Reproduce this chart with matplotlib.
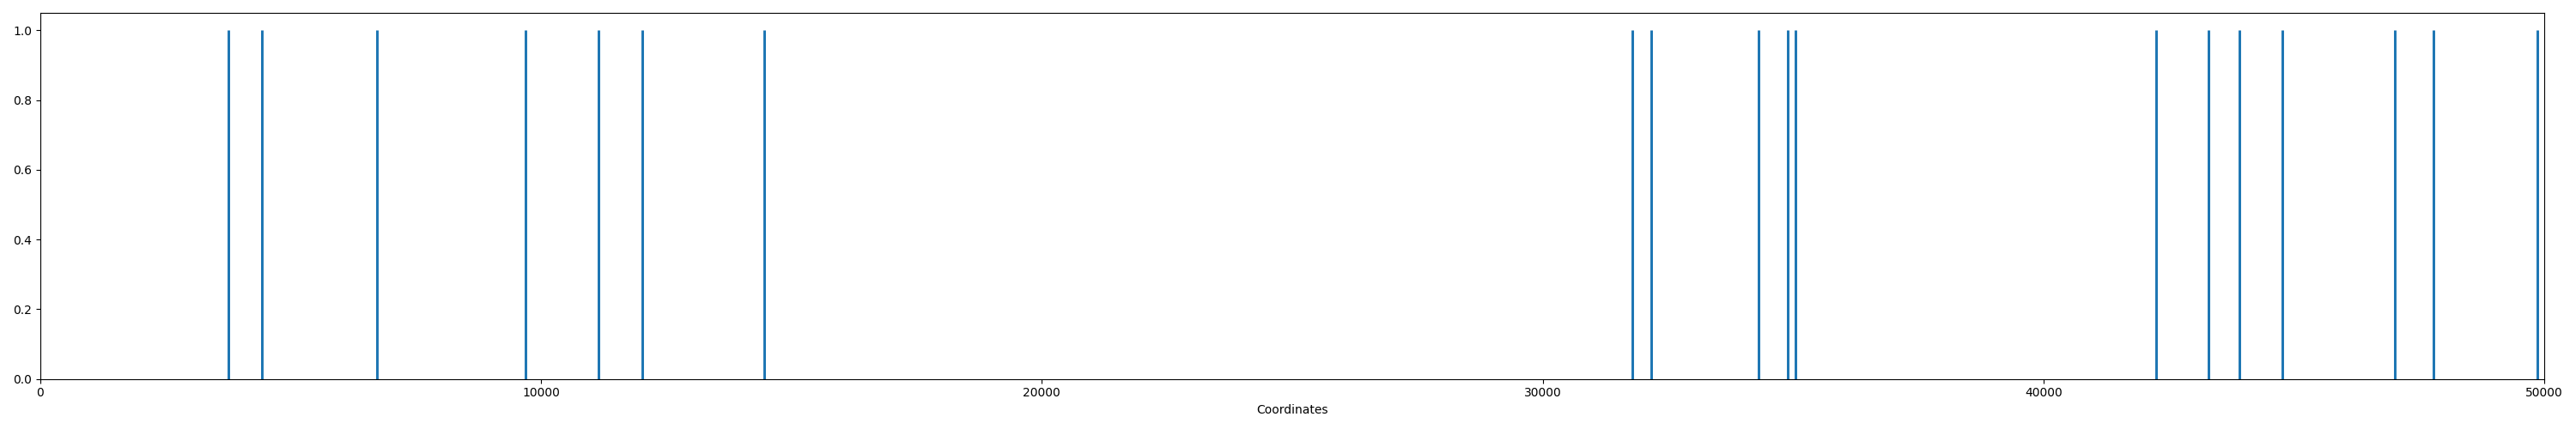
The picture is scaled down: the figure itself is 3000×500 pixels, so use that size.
import numpy as np
import matplotlib
matplotlib.use('Agg')
import matplotlib.pyplot as plt

# positions
coordinates = [3755, 4436, 6722, 9688, 11152, 12020, 14450,
               31790, 32162, 34311, 34901, 35043,
               42250, 43296, 43913, 44770, 47016, 47788, 49863]
heights = [1.0] * len(coordinates)
GENOME_LENGTH = 50000

fig, ax = plt.subplots(figsize=(30, 5), dpi=100)
ax.vlines(coordinates, 0, heights, colors='#1f77b4', linewidth=2.16)
ax.set_xlim(0, GENOME_LENGTH)
ax.set_ylim(0, 1.05)
ax.set_xlabel('Coordinates')

plt.tight_layout()
plt.savefig('out.png')
